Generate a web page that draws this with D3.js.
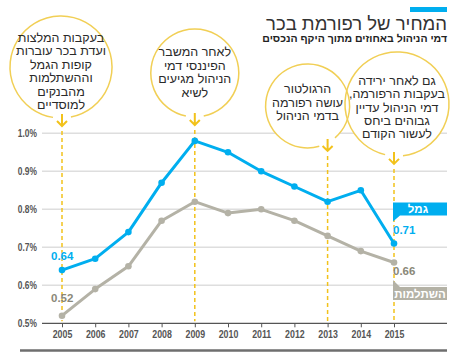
<!DOCTYPE html>
<html>
<head>
<meta charset="utf-8">
<script src="https://cdn.jsdelivr.net/npm/d3@7"></script>
<style>
body { margin: 0; background: #fff; }
svg { display: block; font-family: "Liberation Sans", Arial, sans-serif; }
.axis text { font-family: "Liberation Sans", Arial, sans-serif; font-weight: bold; fill: #555; }
</style>
</head>
<body>
<svg id="chart"></svg>
<script>
// data
const years = [2005, 2006, 2007, 2008, 2009, 2010, 2011, 2012, 2013, 2014, 2015];
const gemel = [0.64, 0.67, 0.74, 0.87, 0.98, 0.95, 0.90, 0.86, 0.82, 0.85, 0.71];
const hishtalmut = [0.52, 0.59, 0.65, 0.77, 0.82, 0.79, 0.80, 0.77, 0.73, 0.69, 0.66];
const yTicks = [0.5, 0.6, 0.7, 0.8, 0.9, 1.0];
const seriesNames = ["גמל", "השתלמות"];
const noteYears = [2005, 2009, 2013, 2015];
const noteTexts = [
    ["בעקבות המלצות", "ועדת בכר עוברות", "קופות הגמל", "וההשתלמות", "מהבנקים", "למוסדיים"],
    ["לאחר המשבר", "הפיננסי דמי", "הניהול מגיעים", "לשיא"],
    ["הרגולטור", "עושה רפורמה", "בדמי הניהול"],
    ["גם לאחר ירידה", "בעקבות הרפורמה,", "דמי הניהול עדיין", "גבוהים ביחס", "לעשור הקודם"]
];
const title = "המחיר של רפורמת בכר";
const subtitle = "דמי הניהול באחוזים מתוך היקף הנכסים";

// layout of the note bubbles (offset from the year, centre y, radius, text centre)
const noteLayout = [
    {dx: -1, cy: 67, r: 51, ty: 71},
    {dx: 0, cy: 73, r: 44, ty: 72},
    {dx: -20, cy: 106, r: 42, ty: 102},
    {dx: 3, cy: 104, r: 52, ty: 107}
];

const W = 458, H = 354;
const blue = "#00aeef", grey = "#b4b2a6", greyText = "#8a8878", yellow = "#f2c21b";
const squeeze = 0.8; // narrow axis digits

const svg = d3.select("#chart").attr("width", W).attr("height", H);

const x = d3.scaleLinear().domain([2005, 2015]).range([62, 394]);
const y = d3.scaleLinear().domain([0.5, 1.0]).range([323.3, 133.3]);

// header
svg.append("rect").attr("x", 410).attr("y", 7).attr("width", 37).attr("height", 5).attr("fill", blue);
svg.append("text").attr("x", 447).attr("y", 29.5).attr("text-anchor", "end")
    .style("font-size", "18.5px").attr("fill", "#333").text(title);
svg.append("text").attr("x", 447).attr("y", 42).attr("text-anchor", "end")
    .style("font-size", "10.5px").style("font-weight", "bold").attr("fill", "#222").text(subtitle);

// gridlines
svg.append("g").selectAll("line")
    .data(yTicks.slice(1))
    .join("line")
    .attr("x1", 42).attr("x2", 447)
    .attr("y1", d => y(d)).attr("y2", d => y(d))
    .attr("stroke", "#dedede").attr("stroke-width", 1.5);

// y axis labels
const yAxis = d3.axisLeft(y).tickValues(yTicks).tickSize(0).tickPadding(5)
    .tickFormat(d => d3.format(".1f")(d) + "%");
svg.append("g").attr("class", "axis").attr("transform", "translate(42,0)")
    .call(yAxis)
    .call(g => g.select(".domain").remove())
    .selectAll("text")
    .style("font-size", "10.5px")
    .attr("x", -5 / squeeze)
    .attr("transform", `scale(${squeeze},1)`);

// x axis
const xAxis = d3.axisBottom(x).tickValues(years).tickFormat(d3.format("d")).tickSize(4).tickPadding(3);
const xAxisG = svg.append("g").attr("class", "axis").attr("transform", `translate(0,${y(0.5)})`)
    .call(xAxis);
xAxisG.select(".domain").remove();
xAxisG.selectAll(".tick line").attr("stroke", "#555");
xAxisG.selectAll("text").style("font-size", "11px").attr("transform", `scale(${squeeze},1)`);
svg.append("line").attr("x1", 42).attr("x2", 447).attr("y1", y(0.5)).attr("y2", y(0.5))
    .attr("stroke", "#555").attr("stroke-width", 1.3);

// bottom rule
svg.append("line").attr("x1", 20).attr("x2", 447).attr("y1", 350.5).attr("y2", 350.5)
    .attr("stroke", "#6e6e6e").attr("stroke-width", 2.5);

// note bubbles
const notes = noteYears.map((yr, i) => {
    const l = noteLayout[i];
    const ax = x(yr);
    const cx = ax + l.dx;
    const off = ax - cx;
    const edge = l.cy + Math.sqrt(l.r * l.r - off * off);
    return {yr, ax, cx, cy: l.cy, r: l.r, ty: l.ty, edge, lines: noteTexts[i]};
});

// white fill first so both outlines of overlapping bubbles stay visible
svg.append("g").selectAll("circle").data(notes).join("circle")
    .attr("cx", d => d.cx).attr("cy", d => d.cy).attr("r", d => d.r)
    .attr("fill", "#fff");

const arc = d3.arc();
svg.append("g").selectAll("path").data(notes).join("path")
    .attr("transform", d => `translate(${d.cx},${d.cy})`)
    .attr("d", d => {
        const a = Math.PI - Math.asin((d.ax - d.cx) / d.r);
        const gap = 9 / d.r;
        return arc({innerRadius: d.r, outerRadius: d.r, startAngle: a + gap, endAngle: a - gap + 2 * Math.PI});
    })
    .attr("fill", "none").attr("stroke", "#f1cf55").attr("stroke-width", 1.5);

// dashed lines from each arrow down to the axis
svg.append("g").selectAll("line").data(notes).join("line")
    .attr("x1", d => d.ax).attr("x2", d => d.ax)
    .attr("y1", d => d.edge + 13).attr("y2", y(0.5) - 2)
    .attr("stroke", yellow).attr("stroke-width", 1.5).attr("stroke-dasharray", "4,3");

// arrows
const arrows = svg.append("g").selectAll("g").data(notes).join("g")
    .attr("transform", d => `translate(${d.ax},${d.edge})`);
arrows.append("path")
    .attr("d", "M0,-4V8M-5,3L0,8L5,3")
    .attr("fill", "none").attr("stroke", yellow).attr("stroke-width", 2);

// note text
notes.forEach(d => {
    const lh = 13.4;
    const t = svg.append("text")
        .attr("direction", "rtl")
        .attr("text-anchor", "middle")
        .style("font-size", "12.5px").attr("fill", "#2a2a2a");
    d.lines.forEach((s, k) => {
        t.append("tspan")
            .attr("x", d.cx)
            .attr("y", d.ty + (k - (d.lines.length - 1) / 2) * lh + 4.5)
            .text(s);
    });
});

// lines
const series = [
    {name: seriesNames[0], values: gemel, color: blue},
    {name: seriesNames[1], values: hishtalmut, color: grey}
];
const line = d3.line().x((d, i) => x(years[i])).y(d => y(d));

series.slice().reverse().forEach(s => {
    svg.append("path").datum(s.values)
        .attr("d", line)
        .attr("fill", "none").attr("stroke", s.color).attr("stroke-width", 3)
        .attr("stroke-linejoin", "round");
    svg.append("g").selectAll("circle").data(s.values).join("circle")
        .attr("cx", (d, i) => x(years[i])).attr("cy", d => y(d)).attr("r", 3.3)
        .attr("fill", s.color);
});

// value labels at the ends
const fmt = d3.format(".2f");
const last = years.length - 1;
svg.append("text").attr("x", x(years[0]) - 11).attr("y", y(gemel[0]) - 10)
    .style("font-size", "11.5px").style("font-weight", "bold").attr("fill", blue).text(fmt(gemel[0]));
svg.append("text").attr("x", x(years[0]) - 11).attr("y", y(hishtalmut[0]) - 13.5)
    .style("font-size", "11.5px").style("font-weight", "bold").attr("fill", greyText).text(fmt(hishtalmut[0]));
svg.append("text").attr("x", x(years[last]) - 1).attr("y", y(gemel[last]) - 9.5)
    .style("font-size", "11.5px").style("font-weight", "bold").attr("fill", blue).text(fmt(gemel[last]));
svg.append("text").attr("x", x(years[last]) - 1).attr("y", y(hishtalmut[last]) + 12.5)
    .style("font-size", "11.5px").style("font-weight", "bold").attr("fill", greyText).text(fmt(hishtalmut[last]));

// series name tags
const bx = x(years[last]) - 1, bw = 447 - bx;
const gTag = y(gemel[last]) - 41;
svg.append("path")
    .attr("d", `M${bx},${gTag}h${bw}v13h${-bw + 7}l-7,6z`)
    .attr("fill", blue);
svg.append("text").attr("x", bx + bw / 2 - 2).attr("y", gTag + 10.5).attr("text-anchor", "middle")
    .style("font-size", "11.5px").style("font-weight", "bold").attr("fill", "#fff").text(seriesNames[0]);

const hTag = y(hishtalmut[last]) + 24.5;
svg.append("path")
    .attr("d", `M${bx},${hTag - 7}l7,7h${bw - 7}v13h${-bw}z`)
    .attr("fill", grey);
svg.append("text").attr("x", bx + bw / 2).attr("y", hTag + 10.5).attr("text-anchor", "middle")
    .style("font-size", "11.5px").style("font-weight", "bold").attr("fill", "#fff").text(seriesNames[1]);
</script>
</body>
</html>
